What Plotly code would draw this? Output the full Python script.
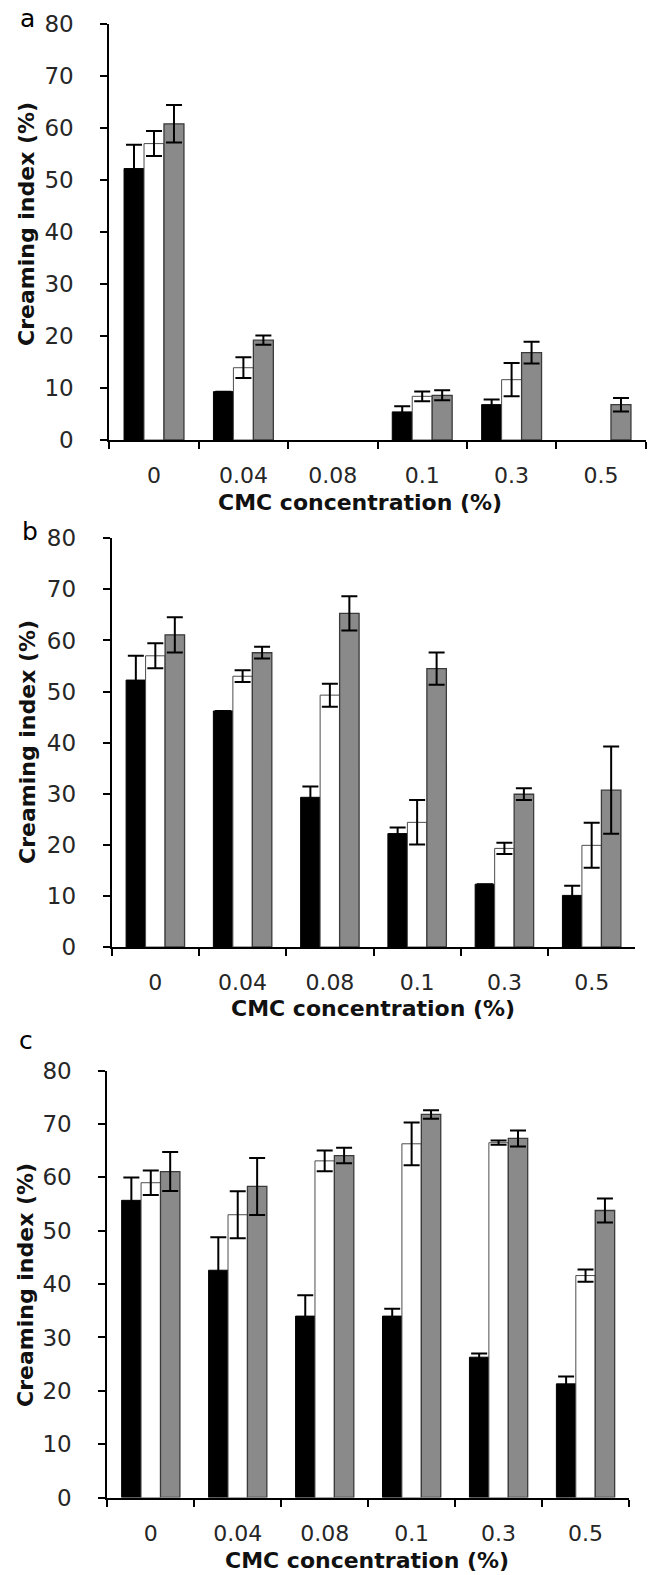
import plotly.graph_objects as go

W, H = 649, 1575

categories = ["0", "0.04", "0.08", "0.1", "0.3", "0.5"]

# Panel a
a_black = [52.2, 9.3, None, 5.4, 6.8, None]
a_black_err = [4.6, 0, None, 1.1, 1.0, None]
a_white = [57.0, 13.9, None, 8.4, 11.6, None]
a_white_err = [2.4, 2.0, None, 0.95, 3.2, None]
a_gray = [60.8, 19.2, None, 8.6, 16.8, 6.8]
a_gray_err = [3.6, 0.9, None, 0.95, 2.1, 1.3]

# Panel b
b_black = [52.25, 46.2, 29.3, 22.2, 12.3, 10.1]
b_black_err = [4.75, 0, 2.1, 1.2, 0, 1.9]
b_white = [57.0, 53.0, 49.3, 24.4, 19.3, 19.9]
b_white_err = [2.45, 1.15, 2.25, 4.35, 1.1, 4.4]
b_gray = [61.1, 57.6, 65.3, 54.5, 29.9, 30.7]
b_gray_err = [3.45, 1.15, 3.35, 3.15, 1.15, 8.55]

# Panel c
c_black = [55.7, 42.6, 34.0, 34.0, 26.3, 21.3]
c_black_err = [4.3, 6.2, 3.9, 1.4, 0.7, 1.4]
c_white = [59.0, 53.0, 63.1, 66.3, 66.5, 41.6]
c_white_err = [2.3, 4.4, 1.95, 4.0, 0.4, 1.15]
c_gray = [61.1, 58.3, 64.1, 71.8, 67.3, 53.8]
c_gray_err = [3.65, 5.35, 1.45, 0.8, 1.5, 2.25]

y_ticks = [0, 10, 20, 30, 40, 50, 60, 70, 80]
panel_letters = ["a", "b", "c"]
y_title = "Creaming index (%)"
x_title = "CMC concentration (%)"

panels = [
    (a_black, a_black_err, a_white, a_white_err, a_gray, a_gray_err),
    (b_black, b_black_err, b_white, b_white_err, b_gray, b_gray_err),
    (c_black, c_black_err, c_white, c_white_err, c_gray, c_gray_err),
]

# pixel geometry of the three plot areas: (x0, x1, ytop, ybottom)
boxes = [
    (109.3, 645.7, 24.0, 440.0),
    (111.7, 635.3, 538.3, 947.0),
    (107.3, 629.0, 1070.7, 1497.5),
]
ytitle_pos = [(26, 224), (28, 742), (25, 1285)]
xtitle_pos = [(360, 503), (373, 1008), (367, 1560)]
letter_pos = [(27, 18), (30, 531), (26, 1040)]

styles = [
    dict(color="#000000", line=dict(color="#000000", width=1)),
    dict(color="#ffffff", line=dict(color="#4d4d4d", width=1)),
    dict(color="#8a8a8a", line=dict(color="#3a3a3a", width=1.3)),
]

FONT = "DejaVu Sans"
fig = go.Figure()

for i, p in enumerate(panels):
    xa = "x" if i == 0 else f"x{i+1}"
    ya = "y" if i == 0 else f"y{i+1}"
    for k in range(3):
        vals, errs = p[2 * k], p[2 * k + 1]
        fig.add_trace(go.Bar(
            x=categories, y=vals, xaxis=xa, yaxis=ya,
            marker=styles[k],
            error_y=dict(type="data", array=errs, visible=True,
                         color="#000000", thickness=2, width=8),
            showlegend=False,
        ))

layout = dict(
    template="none",
    width=W, height=H,
    margin=dict(l=0, r=0, t=0, b=0, autoexpand=False),
    paper_bgcolor="white", plot_bgcolor="white",
    barmode="group", bargap=0.33, bargroupgap=0,
    showlegend=False,
    annotations=[],
)

for i, (x0, x1, yt, yb) in enumerate(boxes):
    sx = "" if i == 0 else str(i + 1)
    layout["xaxis" + sx] = dict(
        domain=[x0 / W, x1 / W], anchor="y" + sx,
        type="category", tickson="boundaries", automargin=False,
        ticks="outside", ticklen=7, tickwidth=2, tickcolor="black",
        showline=True, linecolor="black", linewidth=2,
        showgrid=False, zeroline=False,
        tickfont=dict(family=FONT, size=22, color="#262626"),
        ticklabelstandoff=15,
        fixedrange=True,
    )
    layout["yaxis" + sx] = dict(
        domain=[1 - yb / H, 1 - yt / H], anchor="x" + sx,
        range=[0, 80], tickvals=y_ticks, automargin=False,
        ticks="outside", ticklen=7, tickwidth=2, tickcolor="black",
        showline=True, linecolor="black", linewidth=2,
        showgrid=False, zeroline=False,
        tickfont=dict(family=FONT, size=23, color="#262626"),
        ticklabelstandoff=22,
        fixedrange=True,
    )
    layout["annotations"].append(dict(
        text=y_title, textangle=-90, xref="paper", yref="paper",
        x=ytitle_pos[i][0] / W, y=1 - ytitle_pos[i][1] / H,
        xanchor="center", yanchor="middle", showarrow=False,
        font=dict(family=FONT, size=22, color="#111111", weight="bold"),
    ))
    layout["annotations"].append(dict(
        text=x_title, xref="paper", yref="paper",
        x=xtitle_pos[i][0] / W, y=1 - xtitle_pos[i][1] / H,
        xanchor="center", yanchor="middle", showarrow=False,
        font=dict(family=FONT, size=22, color="#111111", weight="bold"),
    ))
    layout["annotations"].append(dict(
        text=panel_letters[i], xref="paper", yref="paper",
        x=letter_pos[i][0] / W, y=1 - letter_pos[i][1] / H,
        xanchor="center", yanchor="middle", showarrow=False,
        font=dict(family=FONT, size=25, color="#000000"),
    ))

fig.update_layout(**layout)
fig.write_html(
    "out.html",
    config={"displayModeBar": False},
    post_script="document.body.style.margin='0';document.body.style.padding='0';"
                "document.body.style.overflow='hidden';",
)
